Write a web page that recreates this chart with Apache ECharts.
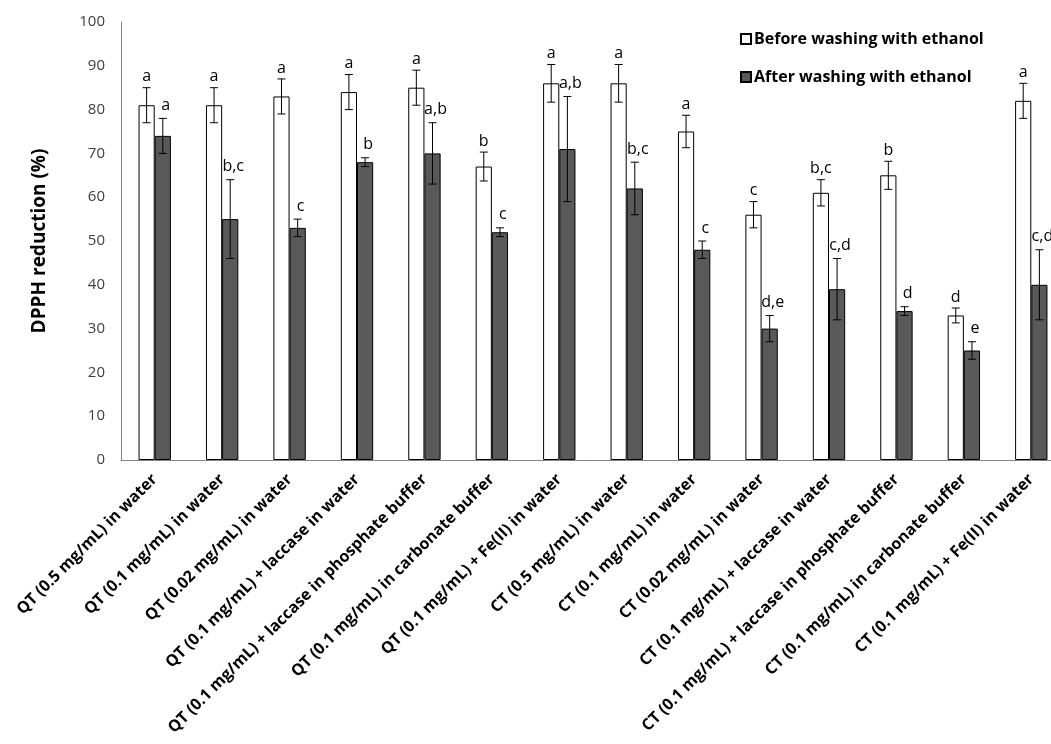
<!DOCTYPE html>
<html>
<head>
<meta charset="utf-8">
<script src="https://cdn.jsdelivr.net/npm/echarts@6/dist/echarts.min.js"></script>
<style>html,body{margin:0;padding:0;background:#fff;}#c{width:1051px;height:744px;}</style>
</head>
<body>
<div id="c"></div>
<script>
var categories = [
  'QT (0.5 mg/mL) in water',
  'QT (0.1 mg/mL) in water',
  'QT (0.02 mg/mL) in water',
  'QT (0.1 mg/mL) + laccase in water',
  'QT (0.1 mg/mL) + laccase in phosphate buffer',
  'QT (0.1 mg/mL) in carbonate buffer',
  'QT (0.1 mg/mL) + Fe(II) in water',
  'CT (0.5 mg/mL) in water',
  'CT (0.1 mg/mL) in water',
  'CT (0.02 mg/mL) in water',
  'CT (0.1 mg/mL) + laccase in water',
  'CT (0.1 mg/mL) + laccase in phosphate buffer',
  'CT (0.1 mg/mL) in carbonate buffer',
  'CT (0.1 mg/mL) + Fe(II) in water'
];
var beforeValues = [81, 81, 83, 84, 85, 67, 86, 86, 75, 56, 61, 65, 33, 82];
var beforeErrors = [4, 4, 4, 4, 4, 3.3, 4.3, 4.3, 3.7, 3, 3, 3.2, 1.7, 4];
var beforeLetters = ['a', 'a', 'a', 'a', 'a', 'b', 'a', 'a', 'a', 'c', 'b,c', 'b', 'd', 'a'];
var afterValues = [74, 55, 53, 68, 70, 52, 71, 62, 48, 30, 39, 34, 25, 40];
var afterErrors = [4, 9, 2, 1, 7, 1, 12, 6, 2, 3, 7, 1, 2, 8];
var afterLetters = ['a', 'b,c', 'c', 'b', 'a,b', 'c', 'a,b', 'b,c', 'c', 'd,e', 'c,d', 'd', 'e', 'c,d'];
var yTicks = [0, 10, 20, 30, 40, 50, 60, 70, 80, 90, 100];

var FONT = '"Open Sans"';
var BAR_FRAC = 0.24;

function errData(vals, errs) {
  return vals.map(function (v, i) { return [i, v, errs[i]]; });
}
var letters = [beforeLetters, afterLetters];

function makeErrRender(side, labelGap, labelShift) {
  return function (params, api) {
    var idx = api.value(0);
    var v = api.value(1);
    var e = api.value(2);
    var letter = letters[side > 0 ? 1 : 0][idx];
    var band = api.size([1, 0])[0];
    var bw = band * BAR_FRAC;
    var c = api.coord([idx, v]);
    var x = c[0] + side * bw / 2;
    var yTop = api.coord([idx, v + e])[1];
    var yBot = api.coord([idx, v - e])[1];
    var cap = 4;
    var st = { stroke: '#000', lineWidth: 1 };
    return {
      type: 'group',
      children: [
        { type: 'line', shape: { x1: x, y1: yTop, x2: x, y2: yBot }, style: st },
        { type: 'line', shape: { x1: x - cap, y1: yTop, x2: x + cap, y2: yTop }, style: st },
        { type: 'line', shape: { x1: x - cap, y1: yBot, x2: x + cap, y2: yBot }, style: st },
        { type: 'text', style: { x: x + labelShift, y: yTop - labelGap, text: letter, align: 'center', verticalAlign: 'middle',
          fill: '#000', font: '16px ' + FONT } }
      ]
    };
  };
}

var chart = echarts.init(document.getElementById('c'), null, { renderer: 'canvas' });
chart.setOption({
  animation: false,
  backgroundColor: '#fff',
  textStyle: { fontFamily: FONT },
  grid: { left: 121, top: 22, bottom: 284, right: -14, containLabel: false, outerBoundsMode: 'none' },
  legend: {
    orient: 'vertical',
    left: 735,
    top: 26,
    itemWidth: 10,
    itemHeight: 10,
    itemGap: 22,
    icon: 'rect',
    data: ['Before washing with ethanol', 'After washing with ethanol'],
    textStyle: { fontFamily: FONT, fontWeight: 'bold', fontSize: 16, color: '#000', padding: [0, 0, 0, -2] }
  },
  xAxis: {
    type: 'category',
    data: categories,
    axisLine: { show: true, lineStyle: { color: '#868686', width: 1 } },
    axisTick: { show: false },
    axisLabel: { rotate: 45, interval: 0, margin: 17, color: '#000', fontWeight: 'bold', fontSize: 16, fontFamily: FONT }
  },
  yAxis: {
    type: 'value',
    min: yTicks[0],
    max: yTicks[yTicks.length - 1],
    interval: yTicks[1] - yTicks[0],
    name: 'DPPH reduction (%)',
    nameLocation: 'middle',
    nameGap: 72,
    nameTextStyle: { fontFamily: FONT, fontWeight: 'bold', fontSize: 19, color: '#000' },
    axisLine: { show: true, lineStyle: { color: '#868686', width: 1 } },
    axisTick: { show: false },
    splitLine: { show: false },
    axisLabel: { margin: 16, color: '#404040', fontSize: 15, fontFamily: FONT }
  },
  series: [
    {
      name: 'Before washing with ethanol',
      type: 'bar',
      data: beforeValues,
      barWidth: (BAR_FRAC * 100) + '%',
      barGap: '0%',
      itemStyle: { color: '#ffffff', borderColor: '#000', borderWidth: 1 }
    },
    {
      name: 'After washing with ethanol',
      type: 'bar',
      data: afterValues,
      barWidth: (BAR_FRAC * 100) + '%',
      barGap: '0%',
      itemStyle: { color: '#595959', borderColor: '#000', borderWidth: 1 }
    },
    {
      type: 'custom',
      data: errData(beforeValues, beforeErrors),
      renderItem: makeErrRender(-1, 11, 0),
      encode: { x: 0, y: 1 },
      z: 5,
      silent: true
    },
    {
      type: 'custom',
      data: errData(afterValues, afterErrors),
      renderItem: makeErrRender(1, 13, 3),
      encode: { x: 0, y: 1 },
      z: 5,
      silent: true
    }
  ]
});
</script>
</body>
</html>
